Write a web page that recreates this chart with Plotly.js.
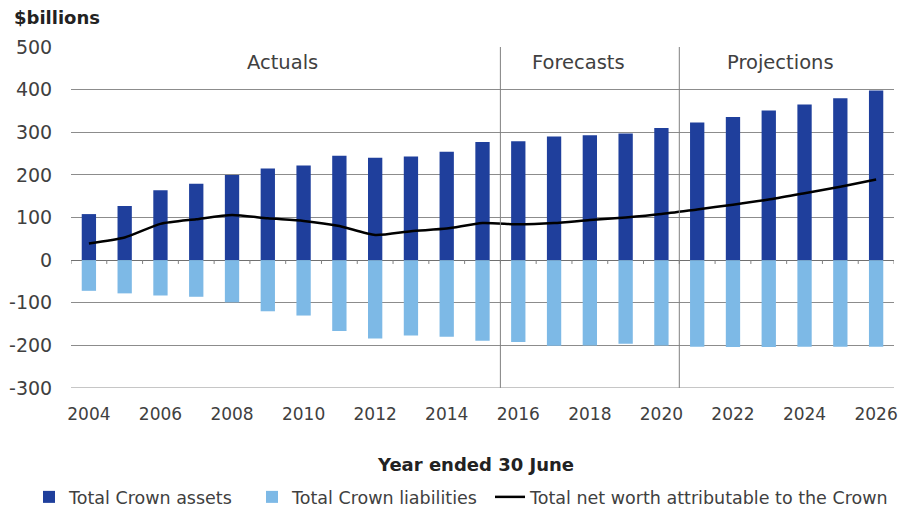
<!DOCTYPE html>
<html>
<head>
<meta charset="utf-8">
<script src="https://cdn.plot.ly/plotly-3.0.1.min.js"></script>
<style>html,body{margin:0;padding:0;background:#fff;}#chart{width:903px;height:510px;}</style>
</head>
<body>
<div id="chart"></div>
<script>
const years = [2004,2005,2006,2007,2008,2009,2010,2011,2012,2013,2014,2015,2016,2017,2018,2019,2020,2021,2022,2023,2024,2025,2026];
const assets = [108,127,164,179,200,215,222,245,240,243,254,277,279,290,293,297,310,323,336,351,365,380,398];
const liabilities = [-72,-78,-83,-86,-99,-120,-130,-166,-184,-177,-180,-189,-192,-201,-200,-196,-200,-203,-204,-204,-203,-203,-203];
const netWorth = [39,53,85,96,106,98,92,80,59,68,74,87,84,87,94,100,108,119,130,142,157,172,189];
const xTickVals = [2004,2006,2008,2010,2012,2014,2016,2018,2020,2022,2024,2026];
const yTickVals = [-300,-200,-100,0,100,200,300,400,500];
const periodLabels = ['Actuals','Forecasts','Projections'];
const periodCentres = [2009.41,2017.68,2023.33];
const periodBreaks = [2015.5,2020.5];

const textCol = '#404040';
const fontFam = 'DejaVu Sans, Verdana, sans-serif';

const traces = [
  {type:'bar', x:years, y:assets, name:'Total Crown assets', marker:{color:'#1f3f9c'}, width:0.4, legend:'legend'},
  {type:'bar', x:years, y:liabilities, name:'Total Crown liabilities', marker:{color:'#7db9e6'}, width:0.4, legend:'legend2'},
  {type:'scatter', mode:'lines', x:years, y:netWorth, name:'Total net worth attributable to the Crown',
   line:{color:'#000000', width:2.5, shape:'spline', smoothing:0.6}, legend:'legend3'}
];

const shapes = [];
periodBreaks.forEach(b => shapes.push({type:'line', xref:'x', yref:'paper', x0:b, x1:b, y0:0, y1:1, line:{color:'#808080', width:1}}));
const boundaries = [years[0]-0.5].concat(years.map(y => y+0.5));
boundaries.forEach(b => shapes.push({type:'line', xref:'x', yref:'y', x0:b, x1:b, y0:0, y1:-9, line:{color:'#808080', width:1}}));
// bottom gridline at -300 (Plotly drops gridlines on the range edge)
shapes.push({type:'line', xref:'paper', yref:'y', x0:0, x1:1, y0:yTickVals[0], y1:yTickVals[0], line:{color:'#8c8c8c', width:1}});

const annotations = periodLabels.map((t,i) => ({
  text:t, x:periodCentres[i], y:464, xref:'x', yref:'y', showarrow:false,
  font:{family:fontFam, size:19.5, color:textCol}
}));
annotations.push({text:'<b>$billions</b>', xref:'paper', yref:'paper', x:(12-71)/823, y:(388-17)/341, xanchor:'left', yanchor:'middle', showarrow:false,
  font:{family:fontFam, size:18, color:'#222'}});
annotations.push({text:'<b>Year ended 30 June</b>', xref:'paper', yref:'paper', x:(475-71)/823, y:(388-464)/341, xanchor:'center', yanchor:'middle', showarrow:false,
  font:{family:fontFam, size:18, color:'#222'}});

const legBase = {orientation:'h', xref:'container', yref:'container', xanchor:'left', y:1-497/510, yanchor:'middle',
  font:{size:17.5, color:textCol}, itemwidth:30};

const layout = {
  width:903, height:510,
  margin:{l:71, r:9, t:47, b:122},
  paper_bgcolor:'#fff', plot_bgcolor:'#fff',
  barmode:'relative',
  font:{family:fontFam, color:textCol, size:16},
  xaxis:{
    range:[2003.5,2026.5], tickvals:xTickVals, ticktext:xTickVals.map(String),
    showgrid:false, zeroline:false, showline:false, ticks:'outside', ticklen:11, tickcolor:'rgba(0,0,0,0)',
    tickfont:{size:17, color:textCol}, automargin:false
  },
  yaxis:{
    range:[-300,500], tickvals:yTickVals, ticktext:yTickVals.map(String),
    showgrid:true, gridcolor:'#8c8c8c', gridwidth:1,
    zeroline:true, zerolinecolor:'#707070', zerolinewidth:1,
    showline:false, ticks:'outside', ticklen:14, tickcolor:'rgba(0,0,0,0)',
    tickfont:{size:19, color:textCol}, automargin:false
  },
  showlegend:true,
  legend:Object.assign({}, legBase, {x:29/903}),
  legend2:Object.assign({}, legBase, {x:252/903}),
  legend3:Object.assign({}, legBase, {x:490/903}),
  shapes:shapes,
  annotations:annotations
};

Plotly.newPlot('chart', traces, layout, {displayModeBar:false, staticPlot:true});
</script>
</body>
</html>
